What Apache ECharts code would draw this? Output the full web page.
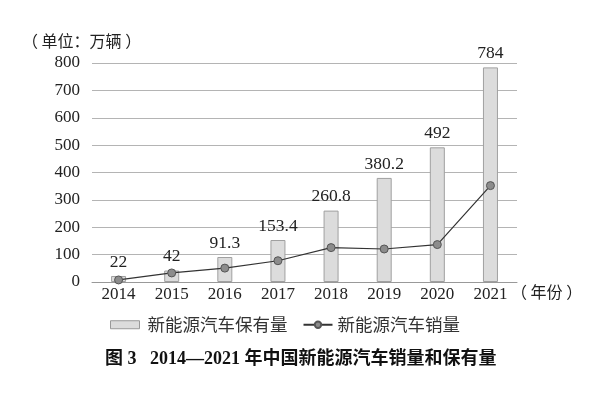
<!DOCTYPE html>
<html><head><meta charset="utf-8">
<script src="https://cdn.jsdelivr.net/npm/echarts@6/dist/echarts.min.js"></script>
<style>html,body{margin:0;padding:0;background:#fff}#c{width:598px;height:396px}</style>
</head><body><div id="c"></div>
<script>
const years = ['2014','2015','2016','2017','2018','2019','2020','2021'];
const stock = [22, 42, 91.3, 153.4, 260.8, 380.2, 492, 784];
const sales = [7.5, 33.1, 50.7, 77.7, 125.6, 120.6, 136.7, 352.1];
const yTicks = [0, 100, 200, 300, 400, 500, 600, 700, 800];
const serif = '"Liberation Serif","Times New Roman","Noto Sans CJK SC",serif';
const cjk = '"Noto Sans CJK SC",sans-serif';
const chart = echarts.init(document.getElementById('c'), null, {renderer:'canvas'});
chart.setOption({
  animation:false,
  grid:{left:92,right:81,top:63,bottom:114,containLabel:false},
  xAxis:{type:'category',data:years,
    axisLine:{lineStyle:{color:'#999',width:1}},axisTick:{show:false},
    axisLabel:{color:'#222',fontFamily:serif,fontSize:17,margin:4}},
  yAxis:{type:'value',min:yTicks[0],max:yTicks[yTicks.length-1],interval:100,
    axisLine:{show:false},axisTick:{show:false},
    splitLine:{lineStyle:{color:'#b4b4b4',width:1}},
    axisLabel:{color:'#222',fontFamily:serif,fontSize:17,margin:12}},
  legend:{left:105,top:311,itemGap:15,
    textStyle:{fontFamily:cjk,fontSize:17.5,color:'#333',padding:[0,0,0,3]},
    data:[{name:'新能源汽车保有量',icon:'rect',itemStyle:{color:'#dcdcdc',borderColor:'#999',borderWidth:1}},
          {name:'新能源汽车销量',textStyle:{padding:0}}],
    itemWidth:29,itemHeight:8},
  series:[
    {name:'新能源汽车保有量',type:'bar',data:stock,barWidth:15,
      itemStyle:{color:'#dcdcdc',borderColor:'#a0a0a0',borderWidth:1},
      label:{show:true,position:'top',distance:5,fontFamily:serif,fontSize:17.5,color:'#222'}},
    {name:'新能源汽车销量',type:'line',data:sales,symbol:'circle',symbolSize:8,
      lineStyle:{color:'#333',width:1.2},
      itemStyle:{color:'#8c8c8c',borderColor:'#555',borderWidth:1}}
  ],
  graphic:[
    {type:'text',left:22,top:33,style:{text:'（ 单位：万辆 ）',font:'16px '+cjk,fill:'#222'}},
    {type:'text',left:511,top:284,style:{text:'（ 年份 ）',font:'16px '+cjk,fill:'#222'}},
    {type:'text',left:105,top:350,style:{text:'图 3   2014—2021 年中国新能源汽车销量和保有量',font:'bold 18px '+serif,fill:'#111'}}
  ]
});
</script></body></html>
